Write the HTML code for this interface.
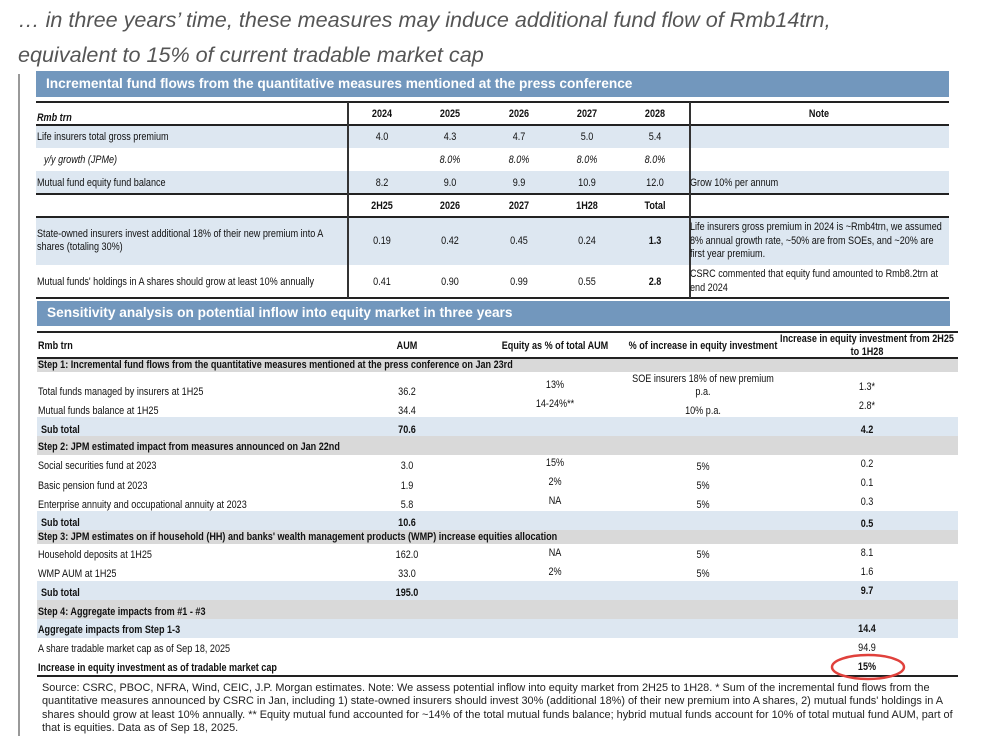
<!DOCTYPE html>
<html><head><meta charset="utf-8"><style>
*{margin:0;padding:0;box-sizing:border-box}
body{width:989px;height:736px;background:#fff;position:relative;overflow:hidden;font-family:"Liberation Sans",sans-serif;color:#111;font-size:10.8px}
.a{position:absolute;white-space:nowrap;transform:scaleX(.84);transform-origin:left center}
.t{font-family:"Liberation Sans",sans-serif;font-style:italic;font-size:21.6px;color:#555;transform:none}
.band{position:absolute;background:#7297bd;color:#fff;font-family:"Liberation Sans",sans-serif;font-weight:bold;font-size:13.7px;padding-left:10px}
.r{position:absolute}
.bl{background:#dde7f1}.gr{background:#d9d9d9}
.ln{position:absolute;height:2px;background:#222}
.c{position:absolute;text-align:center;transform:translateX(-50%) scaleX(.84);white-space:nowrap}
.b{font-weight:bold}.i{font-style:italic}
.fn{position:absolute;left:42px;top:682px;width:940px;font-family:"Liberation Sans",sans-serif;font-size:10.9px;line-height:13.3px;color:#222;white-space:nowrap}
</style></head><body>
<div class="a t" style="left:18px;top:7px">… in three years’ time, these measures may induce additional fund flow of Rmb14trn,</div>
<div class="a t" style="left:18px;top:42px">equivalent to 15% of current tradable market cap</div>
<div class="r" style="left:18px;top:74px;width:2px;height:662px;background:#999"></div>

<div class="band" style="left:36px;top:71px;width:913px;height:26px;line-height:26px">Incremental fund flows from the quantitative measures mentioned at the press conference</div>
<div class="r bl" style="left:36px;top:126px;width:913px;height:22px"></div>
<div class="r bl" style="left:36px;top:171px;width:913px;height:23px"></div>
<div class="r bl" style="left:36px;top:218px;width:913px;height:47px"></div>
<div class="ln" style="left:36px;top:101px;width:913px"></div>
<div class="ln" style="left:36px;top:124px;width:913px;height:1.5px"></div>
<div class="ln" style="left:36px;top:193px;width:913px;height:1.5px"></div>
<div class="ln" style="left:36px;top:216px;width:913px;height:1.5px"></div>
<div class="ln" style="left:36px;top:297px;width:913px"></div>
<div class="r" style="left:347px;top:102px;width:1.5px;height:196px;background:#333"></div>
<div class="r" style="left:689px;top:102px;width:1.5px;height:196px;background:#333"></div>

<div class="a b i" style="left:37px;top:112px">Rmb trn</div>
<div class="c b" style="left:382px;top:108px">2024</div><div class="c b" style="left:450px;top:108px">2025</div><div class="c b" style="left:519px;top:108px">2026</div><div class="c b" style="left:587px;top:108px">2027</div><div class="c b" style="left:655px;top:108px">2028</div><div class="c b" style="left:819px;top:108px">Note</div>
<div class="a" style="left:37px;top:131px">Life insurers total gross premium</div>
<div class="c" style="left:382px;top:131px">4.0</div><div class="c" style="left:450px;top:131px">4.3</div><div class="c" style="left:519px;top:131px">4.7</div><div class="c" style="left:587px;top:131px">5.0</div><div class="c" style="left:655px;top:131px">5.4</div>
<div class="a i" style="left:44px;top:154px">y/y growth (JPMe)</div>
<div class="c i" style="left:450px;top:154px">8.0%</div><div class="c i" style="left:519px;top:154px">8.0%</div><div class="c i" style="left:587px;top:154px">8.0%</div><div class="c i" style="left:655px;top:154px">8.0%</div>
<div class="a" style="left:37px;top:177px">Mutual fund equity fund balance</div>
<div class="c" style="left:382px;top:177px">8.2</div><div class="c" style="left:450px;top:177px">9.0</div><div class="c" style="left:519px;top:177px">9.9</div><div class="c" style="left:587px;top:177px">10.9</div><div class="c" style="left:655px;top:177px">12.0</div>
<div class="a" style="left:690px;top:177px">Grow 10% per annum</div>
<div class="c b" style="left:382px;top:200px">2H25</div><div class="c b" style="left:450px;top:200px">2026</div><div class="c b" style="left:519px;top:200px">2027</div><div class="c b" style="left:587px;top:200px">1H28</div><div class="c b" style="left:655px;top:200px">Total</div>
<div class="a" style="left:37px;top:228px;line-height:13px">State-owned insurers invest additional 18% of their new premium into A<br>shares (totaling 30%)</div>
<div class="c" style="left:382px;top:235px">0.19</div><div class="c" style="left:450px;top:235px">0.42</div><div class="c" style="left:519px;top:235px">0.45</div><div class="c" style="left:587px;top:235px">0.24</div><div class="c b" style="left:655px;top:235px">1.3</div>
<div class="a" style="left:690px;top:221px;line-height:13.5px">Life insurers gross premium in 2024 is ~Rmb4trn, we assumed<br>8% annual growth rate, ~50% are from SOEs, and ~20% are<br>first year premium.</div>
<div class="a" style="left:37px;top:276px">Mutual funds' holdings in A shares should grow at least 10% annually</div>
<div class="c" style="left:382px;top:276px">0.41</div><div class="c" style="left:450px;top:276px">0.90</div><div class="c" style="left:519px;top:276px">0.99</div><div class="c" style="left:587px;top:276px">0.55</div><div class="c b" style="left:655px;top:276px">2.8</div>
<div class="a" style="left:690px;top:268px;line-height:13.5px">CSRC commented that equity fund amounted to Rmb8.2trn at<br>end 2024</div>

<div class="band" style="left:37px;top:301px;width:913px;height:25px;line-height:24px">Sensitivity analysis on potential inflow into equity market in three years</div>
<div class="ln" style="left:37px;top:331px;width:921px"></div>
<div class="r gr" style="left:37px;top:358px;width:921px;height:14px"></div>
<div class="ln" style="left:37px;top:357px;width:921px;height:1.5px"></div>
<div class="r bl" style="left:37px;top:417px;width:921px;height:19px"></div>
<div class="r gr" style="left:37px;top:436px;width:921px;height:19px"></div>
<div class="r bl" style="left:37px;top:511px;width:921px;height:19px"></div>
<div class="r gr" style="left:37px;top:530px;width:921px;height:14px"></div>
<div class="r bl" style="left:37px;top:581px;width:921px;height:19px"></div>
<div class="r gr" style="left:37px;top:600px;width:921px;height:19px"></div>
<div class="r bl" style="left:37px;top:619px;width:921px;height:19px"></div>
<div class="ln" style="left:37px;top:675px;width:921px;height:1.5px"></div>

<div class="a b" style="left:38px;top:340px">Rmb trn</div>
<div class="c b" style="left:407px;top:340px">AUM</div>
<div class="c b" style="left:555px;top:340px">Equity as % of total AUM</div>
<div class="c b" style="left:703px;top:340px">% of increase in equity investment</div>
<div class="c b" style="left:867px;top:333px;line-height:12.5px">Increase in equity investment from 2H25<br>to 1H28</div>
<div class="a b" style="left:38px;top:359px">Step 1: Incremental fund flows from the quantitative measures mentioned at the press conference on Jan 23rd</div>
<div class="a" style="left:38px;top:386px">Total funds managed by insurers at 1H25</div><div class="c" style="left:407px;top:386px">36.2</div>
<div class="c" style="left:555px;top:379px">13%</div>
<div class="c" style="left:703px;top:373px;line-height:13px">SOE insurers 18% of new premium<br>p.a.</div>
<div class="c" style="left:867px;top:381px">1.3*</div>
<div class="a" style="left:38px;top:405px">Mutual funds balance at 1H25</div><div class="c" style="left:407px;top:405px">34.4</div>
<div class="c" style="left:555px;top:398px">14-24%**</div><div class="c" style="left:703px;top:405px">10% p.a.</div><div class="c" style="left:867px;top:400px">2.8*</div>
<div class="a b" style="left:41px;top:424px">Sub total</div><div class="c b" style="left:407px;top:424px">70.6</div><div class="c b" style="left:867px;top:424px">4.2</div>
<div class="a b" style="left:38px;top:441px">Step 2: JPM estimated impact from measures announced on Jan 22nd</div>
<div class="a" style="left:38px;top:460px">Social securities fund at 2023</div><div class="c" style="left:407px;top:460px">3.0</div><div class="c" style="left:555px;top:457px">15%</div><div class="c" style="left:703px;top:461px">5%</div><div class="c" style="left:867px;top:458px">0.2</div>
<div class="a" style="left:38px;top:480px">Basic pension fund at 2023</div><div class="c" style="left:407px;top:480px">1.9</div><div class="c" style="left:555px;top:476px">2%</div><div class="c" style="left:703px;top:480px">5%</div><div class="c" style="left:867px;top:477px">0.1</div>
<div class="a" style="left:38px;top:499px">Enterprise annuity and occupational annuity at 2023</div><div class="c" style="left:407px;top:499px">5.8</div><div class="c" style="left:555px;top:495px">NA</div><div class="c" style="left:703px;top:499px">5%</div><div class="c" style="left:867px;top:496px">0.3</div>
<div class="a b" style="left:41px;top:517px">Sub total</div><div class="c b" style="left:407px;top:517px">10.6</div><div class="c b" style="left:867px;top:518px">0.5</div>
<div class="a b" style="left:38px;top:531px">Step 3: JPM estimates on if household (HH) and banks' wealth management products (WMP) increase equities allocation</div>
<div class="a" style="left:38px;top:549px">Household deposits at 1H25</div><div class="c" style="left:407px;top:549px">162.0</div><div class="c" style="left:555px;top:547px">NA</div><div class="c" style="left:703px;top:549px">5%</div><div class="c" style="left:867px;top:547px">8.1</div>
<div class="a" style="left:38px;top:568px">WMP AUM at 1H25</div><div class="c" style="left:407px;top:568px">33.0</div><div class="c" style="left:555px;top:566px">2%</div><div class="c" style="left:703px;top:568px">5%</div><div class="c" style="left:867px;top:566px">1.6</div>
<div class="a b" style="left:41px;top:587px">Sub total</div><div class="c b" style="left:407px;top:587px">195.0</div><div class="c b" style="left:867px;top:585px">9.7</div>
<div class="a b" style="left:38px;top:606px">Step 4: Aggregate impacts from #1 - #3</div>
<div class="a b" style="left:38px;top:624px">Aggregate impacts from Step 1-3</div><div class="c b" style="left:867px;top:623px">14.4</div>
<div class="a" style="left:38px;top:643px">A share tradable market cap as of Sep 18, 2025</div><div class="c" style="left:867px;top:642px">94.9</div>
<div class="a b" style="left:38px;top:662px">Increase in equity investment as of tradable market cap</div><div class="c b" style="left:867px;top:661px">15%</div>
<svg class="r" style="left:828px;top:652px" width="80" height="30"><ellipse cx="40" cy="15" rx="36" ry="12" fill="none" stroke="#e0413c" stroke-width="2.5"/></svg>

<div class="fn">Source: CSRC, PBOC, NFRA, Wind, CEIC, J.P. Morgan estimates. Note: We assess potential inflow into equity market from 2H25 to 1H28. * Sum of the incremental fund flows from the<br>quantitative measures announced by CSRC in Jan, including 1) state-owned insurers should invest 30% (additional 18%) of their new premium into A shares, 2) mutual funds' holdings in A<br>shares should grow at least 10% annually. ** Equity mutual fund accounted for ~14% of the total mutual funds balance; hybrid mutual funds account for 10% of total mutual fund AUM, part of<br>that is equities. Data as of Sep 18, 2025.</div>
</body></html>
